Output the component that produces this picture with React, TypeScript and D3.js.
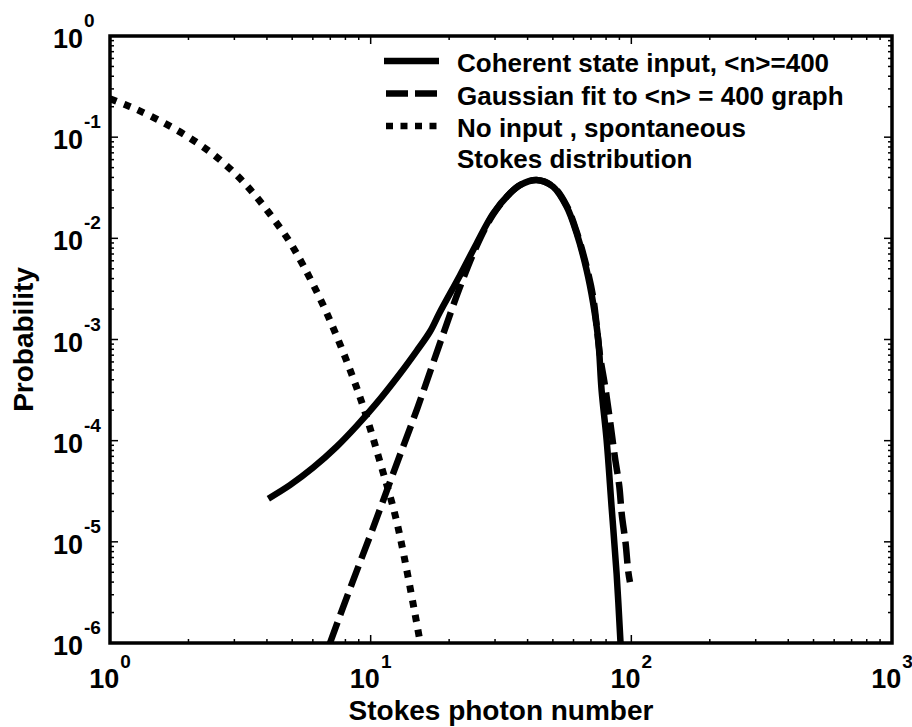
import React from "react";
import * as d3 from "d3";

// Stokes photon number vs probability
const coherentX = [4.05, 4.9, 6.02, 7.41, 8.84, 10.5, 12.95, 15.0, 16.9, 18.4, 22.0, 25.5, 29.5, 34.2, 37.4, 43.3, 50.1, 56.5, 61.7, 67.4, 71.4, 74.7, 76.9, 80.4, 84.0, 87.8, 90.9];
const coherentY = [2.67e-5, 3.63e-5, 5.42e-5, 8.73e-5, 1.4e-4, 2.32e-4, 4.59e-4, 7.69e-4, 1.2e-3, 1.85e-3, 4.3e-3, 8.9e-3, 0.0176, 0.0278, 0.0336, 0.0377, 0.0323, 0.0205, 0.0112, 4.84e-3, 2.27e-3, 9.8e-4, 3.15e-4, 1.01e-4, 2.21e-5, 4.85e-6, 1e-6];

const gaussX = [6.98, 8.48, 10.2, 12.4, 15.1, 18.45, 22.0, 25.5, 29.5, 34.2, 37.4, 43.3, 50.1, 56.5, 61.7, 67.4, 71.4, 75.8, 79.2, 82.8, 86.5, 89.9, 91.9, 95.1, 97.3, 98.8];
const gaussY = [1e-6, 3.89e-6, 1.36e-5, 5.33e-5, 2.09e-4, 9.2e-4, 3.29e-3, 8.37e-3, 0.0172, 0.0278, 0.0336, 0.0377, 0.0325, 0.021, 0.0116, 5.2e-3, 2.6e-3, 7.0e-4, 3.53e-4, 1.59e-4, 6.85e-5, 3.56e-5, 1.87e-5, 9.6e-6, 5.1e-6, 4e-6];

const spontX = [1, 1.14, 1.3, 1.63, 2.03, 2.49, 3.06, 3.6, 4.23, 4.9, 5.51, 6.39, 7.29, 8.45, 9.51, 10.9, 12.6, 15.5];
const spontY = [0.24, 0.21, 0.182, 0.136, 0.0977, 0.0676, 0.0422, 0.0267, 0.0157, 0.00917, 0.0054, 0.00255, 0.00119, 4.57e-4, 1.92e-4, 5.97e-5, 1.57e-5, 1e-6];

const xDecades = [0, 1, 2, 3];
const yDecades = [0, -1, -2, -3, -4, -5, -6];

const legendItems = [
  { label: "Coherent state input, <n>=400", dash: "none" },
  { label: "Gaussian fit to <n> = 400 graph", dash: "22,7" },
  { label: "No input , spontaneous", dash: "7,7.5" },
];

const font = "'Liberation Sans', Arial, Helvetica, sans-serif";

export default function App() {
  const width = 912;
  const height = 727;
  const left = 110, right = 892, top = 36, bottom = 643;

  const x = d3.scaleLog().domain([1, 1000]).range([left, right]);
  const y = d3.scaleLog().domain([1e-6, 1]).range([bottom, top]);

  const line = d3
    .line<[number, number]>()
    .x((d) => x(d[0]))
    .y((d) => y(d[1]))
    .curve(d3.curveCatmullRom.alpha(0.5));

  const zip = (a: number[], b: number[]) => a.map((v, i) => [v, b[i]] as [number, number]);

  // minor + major tick values
  const xTicks: { v: number; major: boolean }[] = [];
  for (let e = 0; e < 3; e++)
    for (let m = 1; m < 10; m++) xTicks.push({ v: m * Math.pow(10, e), major: m === 1 });
  xTicks.push({ v: 1000, major: true });
  const yTicks: { v: number; major: boolean }[] = [];
  for (let e = -6; e < 0; e++)
    for (let m = 1; m < 10; m++) yTicks.push({ v: m * Math.pow(10, e), major: m === 1 });
  yTicks.push({ v: 1, major: true });

  const majorLen = 8, minorLen = 4;

  return (
    <svg width={width} height={height} style={{ position: "absolute", left: 0, top: 0, background: "#fff" }}
      fontFamily={font} fontWeight="bold">
      <defs>
        <clipPath id="plot">
          <rect x={left} y={top} width={right - left} height={bottom - top} />
        </clipPath>
      </defs>

      {/* curves */}
      <g clipPath="url(#plot)" fill="none" stroke="#000" strokeWidth={6.5}>
        <path d={line(zip(spontX, spontY)) || ""} strokeDasharray="7,8" strokeWidth={7} />
        <path d={line(zip(coherentX, coherentY)) || ""} />
        <path d={line(zip(gaussX, gaussY)) || ""} strokeDasharray="22,8" />
      </g>

      {/* ticks */}
      <g stroke="#000" strokeWidth={1.5}>
        {xTicks.map((t, i) => {
          const len = t.major ? majorLen : minorLen;
          return (
            <g key={"x" + i}>
              <line x1={x(t.v)} x2={x(t.v)} y1={bottom} y2={bottom - len} />
              <line x1={x(t.v)} x2={x(t.v)} y1={top} y2={top + len} />
            </g>
          );
        })}
        {yTicks.map((t, i) => {
          const len = t.major ? majorLen : minorLen;
          return (
            <g key={"y" + i}>
              <line x1={left} x2={left + len} y1={y(t.v)} y2={y(t.v)} />
              <line x1={right} x2={right - len} y1={y(t.v)} y2={y(t.v)} />
            </g>
          );
        })}
      </g>
      <rect x={left} y={top} width={right - left} height={bottom - top} fill="none" stroke="#000" strokeWidth={3.5} />

      {/* tick labels */}
      {xDecades.map((e) => (
        <text key={"xl" + e} x={x(Math.pow(10, e))} y={688} textAnchor="middle" fontSize={27}>
          <tspan>10</tspan>
          <tspan dx={1} dy={-20} fontSize={19}>{e}</tspan>
        </text>
      ))}
      {yDecades.map((e) => (
        <text key={"yl" + e} x={53} y={y(Math.pow(10, e)) + 12} fontSize={27}>
          <tspan>10</tspan>
          <tspan dx={1} dy={-21} fontSize={19}>{e}</tspan>
        </text>
      ))}

      {/* axis titles */}
      <text x={(left + right) / 2} y={720} textAnchor="middle" fontSize={28}>Stokes photon number</text>
      <text transform={`translate(33,${(top + bottom) / 2}) rotate(-90)`} textAnchor="middle" fontSize={28}>Probability</text>

      {/* legend */}
      {legendItems.map((item, i) => {
        const ly = 61 + i * 32.5;
        return (
          <g key={"lg" + i}>
            <line x1={i === 0 ? 384 : 386} x2={439} y1={ly} y2={ly} stroke="#000" strokeWidth={6.5}
              strokeDasharray={item.dash} />
            <text x={457} y={ly + 11} fontSize={26}>{item.label}</text>
          </g>
        );
      })}
      <text x={457} y={168} fontSize={26}>Stokes distribution</text>
    </svg>
  );
}
